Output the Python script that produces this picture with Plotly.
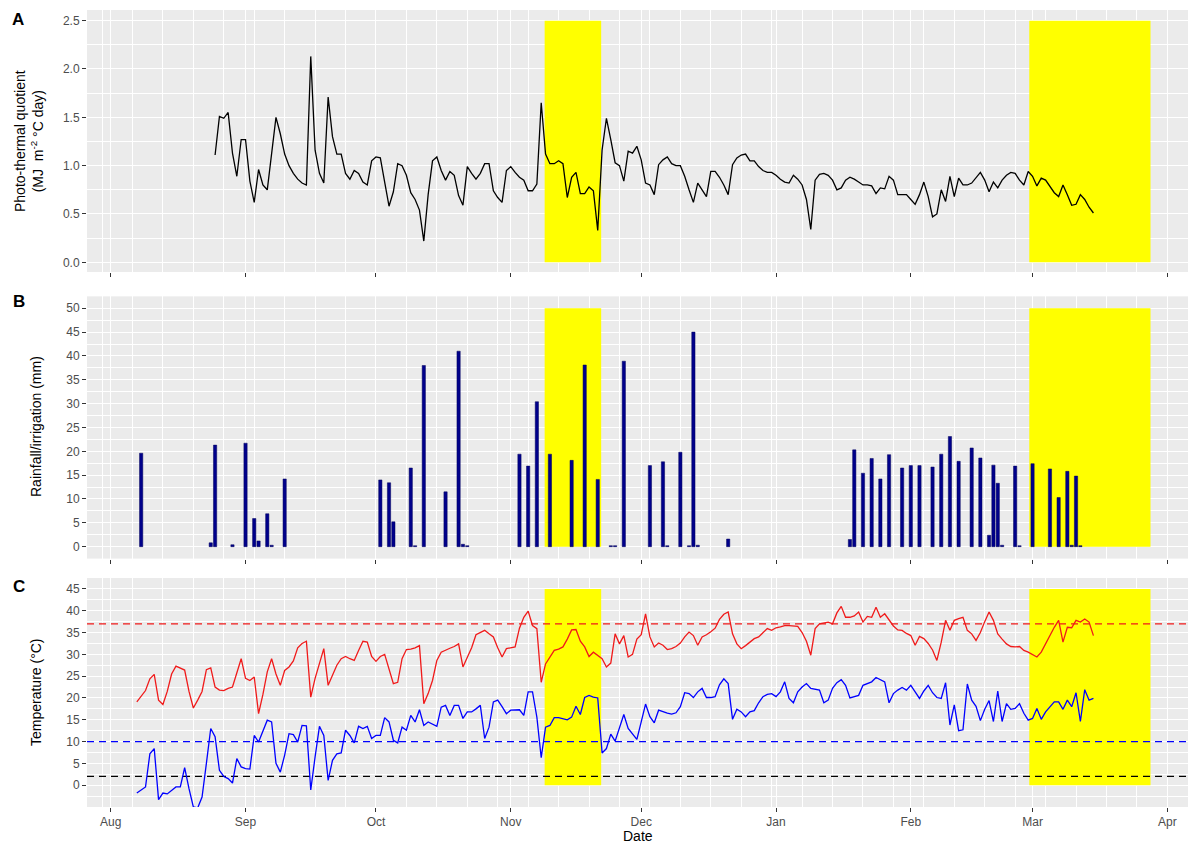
import pandas as pd
import plotly.graph_objects as go

# ---------------- data ----------------
temp_start = "2018-08-07"
tmax = [
    19.1, 20.4, 21.7, 24.4, 25.4, 19.5, 18.5, 21.5, 25.5, 27.3,
    26.8, 26.4, 21.5, 17.7, 19.5, 21.5, 26.5, 26.9, 22.5, 21.8,
    21.7, 22.2, 22.5, 26.0, 29.0, 24.5, 24.0, 24.8, 16.4, 20.8,
    26.0, 29.0, 25.5, 22.9, 26.3, 27.1, 28.5, 31.5, 32.5, 33.0,
    20.2, 24.5, 28.0, 31.3, 22.9, 25.2, 27.5, 29.0, 29.5, 29.0,
    28.6, 30.9, 33.0, 32.8, 29.5, 28.4, 29.5, 30.0, 26.7, 23.3,
    23.6, 29.0, 31.1, 31.2, 31.5, 32.0, 18.7, 21.0, 24.0, 28.6,
    30.5, 31.0, 31.4, 31.8, 32.4, 27.1, 29.5, 31.5, 34.5, 35.0,
    35.5, 34.7, 34.0, 31.5, 29.4, 31.3, 31.5, 31.7, 36.0, 38.5,
    39.9, 36.6, 35.9, 23.6, 27.8, 29.5, 30.9, 31.2, 31.7, 33.5,
    35.6, 35.7, 33.0, 31.7, 29.5, 30.5, 29.8, 29.0, 27.1, 28.0,
    34.7, 32.4, 34.3, 29.4, 30.0, 33.5, 34.5, 39.3, 34.0, 31.7,
    32.6, 32.1, 31.1, 31.3, 31.8, 32.6, 34.0, 35.1, 34.3, 32.1,
    34.0, 34.5, 35.2, 36.0, 38.0, 39.2, 39.7, 34.7, 32.4, 31.3,
    32.0, 32.8, 33.6, 34.0, 35.0, 35.9, 35.5, 36.1, 36.3, 36.6,
    36.6, 36.5, 36.4, 35.0, 33.0, 29.8, 35.9, 37.0, 37.2, 37.4,
    37.0, 39.5, 41.0, 38.5, 38.5, 38.8, 39.7, 37.4, 38.7, 38.5,
    40.8, 38.5, 39.3, 37.8, 36.5, 35.6, 35.5, 34.8, 34.3, 32.1,
    34.1, 33.6, 32.5, 31.0, 28.6, 32.8, 37.8, 35.5, 37.8, 38.2,
    38.5, 35.5, 34.7, 33.2, 35.0, 37.5, 39.7, 37.8, 34.7, 33.5,
    32.4, 31.8, 31.7, 31.8, 30.9, 30.5, 30.0, 29.4, 30.5, 32.5,
    34.5, 36.2, 37.8, 32.8, 36.2, 36.1, 37.8, 37.4, 38.1, 37.4,
    34.3,
]
tmin = [
    -1.8, -1.0, -0.4, 7.2, 8.4, -3.3, -1.8, -2.0, -1.2, -0.4,
    -0.4, 4.0, -0.8, -5.0, -5.2, -2.7, 5.0, 13.0, 11.1, 3.4,
    2.0, 1.5, 0.5, 6.1, 4.2, 3.8, 3.7, 11.4, 9.9, 12.5,
    14.9, 14.5, 5.0, 3.0, 6.9, 11.8, 11.6, 9.9, 13.7, 13.6,
    -1.1, 6.5, 13.5, 11.4, 1.1, 5.7, 7.2, 7.4, 12.6, 11.4,
    9.7, 13.5, 13.0, 13.5, 10.7, 11.4, 11.4, 15.5, 14.5, 10.3,
    9.7, 13.3, 12.6, 16.0, 14.5, 17.3, 13.7, 14.5, 14.0, 13.5,
    17.9, 18.3, 16.0, 18.3, 18.3, 15.3, 16.8, 16.8, 17.5, 18.3,
    10.7, 13.3, 19.1, 19.5, 18.0, 16.4, 17.2, 17.3, 17.3, 16.0,
    21.4, 21.4, 15.6, 6.3, 13.3, 13.7, 15.5, 15.5, 15.3, 15.0,
    15.6, 18.1, 16.2, 20.1, 20.6, 20.2, 20.0, 7.4, 8.4, 11.7,
    10.1, 13.0, 16.2, 13.0, 11.8, 10.5, 14.5, 18.6, 15.7, 14.3,
    17.2, 16.8, 16.5, 16.3, 16.6, 18.0, 21.2, 21.0, 20.1, 21.4,
    22.2, 20.1, 20.1, 20.3, 23.0, 24.4, 23.3, 15.1, 17.4, 16.8,
    15.7, 16.8, 17.1, 18.9, 20.3, 20.8, 21.0, 20.3, 21.4, 23.7,
    19.9, 18.9, 21.4, 22.5, 23.3, 22.2, 22.0, 21.8, 18.9, 19.5,
    22.2, 23.5, 24.2, 22.9, 20.0, 20.3, 20.6, 22.9, 23.3, 23.7,
    24.7, 24.2, 23.7, 18.9, 21.0, 21.8, 22.4, 21.8, 22.9, 21.4,
    19.9, 21.6, 22.9, 21.2, 20.1, 19.9, 23.5, 13.8, 18.4, 12.5,
    12.7, 23.2, 19.5, 18.1, 14.8, 17.4, 19.4, 14.6, 21.6, 14.6,
    18.7, 17.4, 17.6, 18.7, 16.5, 14.9, 15.3, 17.6, 15.1, 16.8,
    18.0, 19.1, 19.1, 17.4, 19.5, 18.0, 21.2, 14.6, 21.9, 19.5,
    19.9,
]

ptq_start = "2018-08-25"
ptq = [
    1.11, 1.51, 1.49, 1.55, 1.13, 0.89, 1.27, 1.27, 0.84, 0.62,
    0.96, 0.80, 0.75, 1.15, 1.50, 1.33, 1.12, 1.00, 0.92, 0.86,
    0.82, 0.80, 2.13, 1.16, 0.92, 0.82, 1.71, 1.30, 1.12, 1.12,
    0.92, 0.86, 0.95, 0.92, 0.83, 0.80, 1.05, 1.09, 1.08, 0.83,
    0.58, 0.73, 1.02, 1.00, 0.90, 0.72, 0.65, 0.54, 0.22, 0.70,
    1.05, 1.09, 0.95, 0.85, 0.94, 0.90, 0.69, 0.59, 0.99, 0.92,
    0.86, 0.92, 1.02, 1.02, 0.74, 0.67, 0.62, 0.95, 0.99, 0.93,
    0.88, 0.85, 0.74, 0.74, 0.81, 1.65, 1.12, 1.02, 1.02, 1.05,
    1.02, 0.67, 0.88, 0.93, 0.71, 0.71, 0.78, 0.74, 0.33, 1.16,
    1.49, 1.27, 1.03, 1.00, 0.84, 1.15, 1.13, 1.20, 1.06, 0.82,
    0.80, 0.70, 1.01, 1.06, 1.09, 1.02, 1.00, 1.00, 0.89, 0.75,
    0.62, 0.82, 0.75, 0.68, 0.94, 0.94, 0.88, 0.80, 0.70, 1.01,
    1.08, 1.11, 1.12, 1.05, 1.05, 0.99, 0.95, 0.93, 0.93, 0.90,
    0.86, 0.83, 0.82, 0.90, 0.86, 0.80, 0.65, 0.34, 0.85, 0.91,
    0.92, 0.90, 0.85, 0.75, 0.77, 0.85, 0.88, 0.86, 0.83, 0.80,
    0.80, 0.79, 0.71, 0.77, 0.76, 0.89, 0.85, 0.70, 0.70, 0.70,
    0.65, 0.60, 0.70, 0.83, 0.68, 0.47, 0.50, 0.75, 0.63, 0.89,
    0.68, 0.87, 0.80, 0.80, 0.82, 0.88, 0.93, 0.85, 0.73, 0.83,
    0.77, 0.85, 0.90, 0.93, 0.92, 0.85, 0.80, 0.94, 0.89, 0.79,
    0.87, 0.85, 0.78, 0.72, 0.68, 0.80, 0.70, 0.59, 0.60, 0.70,
    0.65, 0.57, 0.51,
]

rain_dates = [
    "2018-08-08", "2018-08-24", "2018-08-25", "2018-08-29", "2018-09-01",
    "2018-09-03", "2018-09-04", "2018-09-06", "2018-09-07", "2018-09-10",
    "2018-10-02", "2018-10-04", "2018-10-05", "2018-10-09", "2018-10-10",
    "2018-10-12", "2018-10-17", "2018-10-20", "2018-10-21", "2018-10-22",
    "2018-11-03", "2018-11-05", "2018-11-07", "2018-11-10", "2018-11-15",
    "2018-11-18", "2018-11-21", "2018-11-24", "2018-11-25", "2018-11-27",
    "2018-12-03", "2018-12-06", "2018-12-07", "2018-12-10", "2018-12-12",
    "2018-12-13", "2018-12-14", "2018-12-21",
    "2019-01-18", "2019-01-19", "2019-01-21", "2019-01-23", "2019-01-25",
    "2019-01-27", "2019-01-30", "2019-02-01", "2019-02-03", "2019-02-06",
    "2019-02-08", "2019-02-10", "2019-02-12", "2019-02-15", "2019-02-17",
    "2019-02-19", "2019-02-20", "2019-02-21", "2019-02-22", "2019-02-25",
    "2019-02-26", "2019-03-01", "2019-03-05", "2019-03-07", "2019-03-09",
    "2019-03-10", "2019-03-11", "2019-03-12",
]
rain_mm = [
    19.6, 0.8, 21.3, 0.4, 21.7,
    5.9, 1.2, 6.9, 0.3, 14.2,
    14.0, 13.4, 5.2, 16.5, 0.2,
    38.0, 11.5, 41.0, 0.5, 0.2,
    19.4, 16.9, 30.4, 19.4, 18.1,
    38.1, 14.1, 0.2, 0.2, 38.9,
    17.0, 17.8, 0.2, 19.8, 0.2,
    45.0, 0.3, 1.6,
    1.5, 20.3, 15.4, 18.5, 14.2,
    19.3, 16.5, 17.0, 17.0, 16.7,
    19.4, 23.1, 17.9, 20.7, 18.6,
    2.4, 17.1, 13.3, 0.3, 16.9,
    0.2, 17.4, 16.3, 10.3, 15.8,
    0.3, 14.8, 0.2,
]

month_ticks = ["2018-08-01", "2018-09-01", "2018-10-01", "2018-11-01", "2018-12-01",
               "2019-01-01", "2019-02-01", "2019-03-01", "2019-04-01"]
month_labels = ["Aug", "Sep", "Oct", "Nov", "Dec", "Jan", "Feb", "Mar", "Apr"]

highlight_periods = [("2018-11-08 19:00", "2018-11-21 19:00"),
                     ("2019-02-28 06:00", "2019-03-28 03:00")]

ptq_ticks = [0.0, 0.5, 1.0, 1.5, 2.0, 2.5]
rain_ticks = [0, 5, 10, 15, 20, 25, 30, 35, 40, 45, 50]
temp_ticks = [0, 5, 10, 15, 20, 25, 30, 35, 40, 45]

tmax_threshold = 37
tmin_threshold = 10
base_threshold = 2

# ---------------- figure ----------------
temp_dates = pd.date_range(temp_start, periods=len(tmax), freq="D")
ptq_dates = pd.date_range(ptq_start, periods=len(ptq), freq="D")

FONT = "Liberation Sans, Arial, sans-serif"
BG = "#EBEBEB"
RED = "#F01A1A"
BLUE = "#0000FF"
DAY_MS = 86400000
x_range = ["2018-07-26 13:00", "2019-04-05 18:00"]

# the page body adds an 8 px offset, so the figure is drawn 8 px smaller
PAGE_OFF = 8
FIG_W, FIG_H = 1196 - PAGE_OFF, 846 - PAGE_OFF
M_L, M_R, M_T, M_B = 87 - PAGE_OFF, 8, 10 - PAGE_OFF, 39

fig = go.Figure()

# yellow highlight periods drawn as wide bars (beneath the data marks)
hl_start = pd.to_datetime([p[0] for p in highlight_periods])
hl_end = pd.to_datetime([p[1] for p in highlight_periods])
hl_mid = hl_start + (hl_end - hl_start) / 2
hl_width = [(e - s).total_seconds() * 1000 for s, e in zip(hl_start, hl_end)]
for xa, ya, top in (("x", "y", ptq_ticks[-1]), ("x2", "y2", rain_ticks[-1]),
                    ("x3", "y3", temp_ticks[-1])):
    fig.add_trace(go.Bar(x=hl_mid, y=[top] * len(hl_mid), width=hl_width,
                         marker=dict(color="#FFFF00", line=dict(width=0)),
                         xaxis=xa, yaxis=ya, hoverinfo="skip"))

fig.add_trace(go.Bar(x=pd.to_datetime(rain_dates), y=rain_mm,
                     width=0.75 * DAY_MS,
                     marker=dict(color="#00008B", line=dict(color="#00005A", width=0.5)),
                     xaxis="x2", yaxis="y2", hoverinfo="skip"))

fig.add_trace(go.Scatter(x=ptq_dates, y=ptq, mode="lines",
                         line=dict(color="black", width=1.3),
                         xaxis="x", yaxis="y", hoverinfo="skip"))

# dashed threshold lines
for val, col in ((tmax_threshold, RED), (tmin_threshold, BLUE),
                 (base_threshold, "black")):
    fig.add_trace(go.Scatter(x=x_range, y=[val, val], mode="lines",
                             line=dict(color=col, width=1.2, dash="7px,5px"),
                             xaxis="x3", yaxis="y3", hoverinfo="skip"))

fig.add_trace(go.Scatter(x=temp_dates, y=tmax, mode="lines",
                         line=dict(color=RED, width=1.3),
                         xaxis="x3", yaxis="y3", hoverinfo="skip"))
fig.add_trace(go.Scatter(x=temp_dates, y=tmin, mode="lines",
                         line=dict(color=BLUE, width=1.3),
                         xaxis="x3", yaxis="y3", hoverinfo="skip"))


def xaxis(show_labels, anchor):
    return dict(
        type="date", range=x_range, anchor=anchor,
        tickmode="array", tickvals=month_ticks, ticktext=month_labels,
        showticklabels=show_labels,
        ticks="outside", ticklen=4, tickwidth=1, tickcolor="#333333",
        tickfont=dict(family=FONT, size=12, color="#4D4D4D"),
        showgrid=True, gridcolor="white", gridwidth=1.1,
        zeroline=False, showline=False, automargin=False,
        minor=dict(tickmode="linear", tick0="2018-07-30", dtick=7 * DAY_MS,
                   showgrid=True, gridcolor="white", gridwidth=0.5, ticks=""),
    )


def yaxis(domain, rng, ticks, fmt, minor_step, anchor):
    return dict(
        domain=domain, range=rng, anchor=anchor,
        tickmode="array", tickvals=ticks, ticktext=[fmt.format(t) for t in ticks],
        ticks="outside", ticklen=4, tickwidth=1, tickcolor="#333333",
        tickfont=dict(family=FONT, size=12, color="#4D4D4D"),
        showgrid=True, gridcolor="white", gridwidth=1.1,
        zeroline=False, showline=False, automargin=False,
        minor=dict(tickmode="linear", tick0=0, dtick=minor_step,
                   showgrid=True, gridcolor="white", gridwidth=0.5, ticks=""),
    )


fig.update_layout(
    width=FIG_W, height=FIG_H,
    margin=dict(l=M_L, r=M_R, t=M_T, b=M_B, autoexpand=False),
    paper_bgcolor="white", plot_bgcolor=BG,
    showlegend=False, barmode="overlay",
    font=dict(family=FONT, color="black"),
    xaxis=xaxis(False, "y"),
    xaxis2=xaxis(False, "y2"),
    xaxis3=xaxis(True, "y3"),
    yaxis=yaxis([0.6713, 1.0], [-0.1, 2.61], ptq_ticks, "{:.1f}", 0.25, "x"),
    yaxis2=yaxis([0.3117, 0.6407], [-2.5, 52.5], rain_ticks, "{:d}", 2.5, "x2"),
    yaxis3=yaxis([0.0, 0.2873], [-5, 47.5], temp_ticks, "{:d}", 2.5, "x3"),
)

# page-pixel -> paper coordinates
PLOT_L = M_L + PAGE_OFF
PLOT_B = FIG_H - M_B + PAGE_OFF
W = FIG_W - M_L - M_R
H = FIG_H - M_T - M_B


def px_x(p):
    return (p - PLOT_L) / W


def px_y(p):
    return (PLOT_B - p) / H


annotations = [
    dict(text="<b>A</b>", x=px_x(18), y=px_y(19)),
    dict(text="<b>B</b>", x=px_x(19), y=px_y(301)),
    dict(text="<b>C</b>", x=px_x(19), y=px_y(586)),
]
for a in annotations:
    a.update(xref="paper", yref="paper", showarrow=False, xanchor="center", yanchor="middle",
             font=dict(family=FONT, size=17, color="black"))

titles = [
    dict(text="Photo-thermal quotient<br>(MJ  m<sup>-2</sup> °C day)", x=px_x(29), y=px_y(141)),
    dict(text="Rainfall/irrigation (mm)", x=px_x(36), y=px_y(427)),
    dict(text="Temperature (°C)", x=px_x(36), y=px_y(692)),
]
for t in titles:
    t.update(xref="paper", yref="paper", showarrow=False, textangle=-90,
             xanchor="center", yanchor="middle",
             font=dict(family=FONT, size=14, color="black"))

date_title = dict(text="Date", x=0.5, y=px_y(836), xref="paper", yref="paper",
                  showarrow=False, xanchor="center", yanchor="middle",
                  font=dict(family=FONT, size=14, color="black"))

fig.update_layout(annotations=annotations + titles + [date_title])

fig.write_html("out.html")
